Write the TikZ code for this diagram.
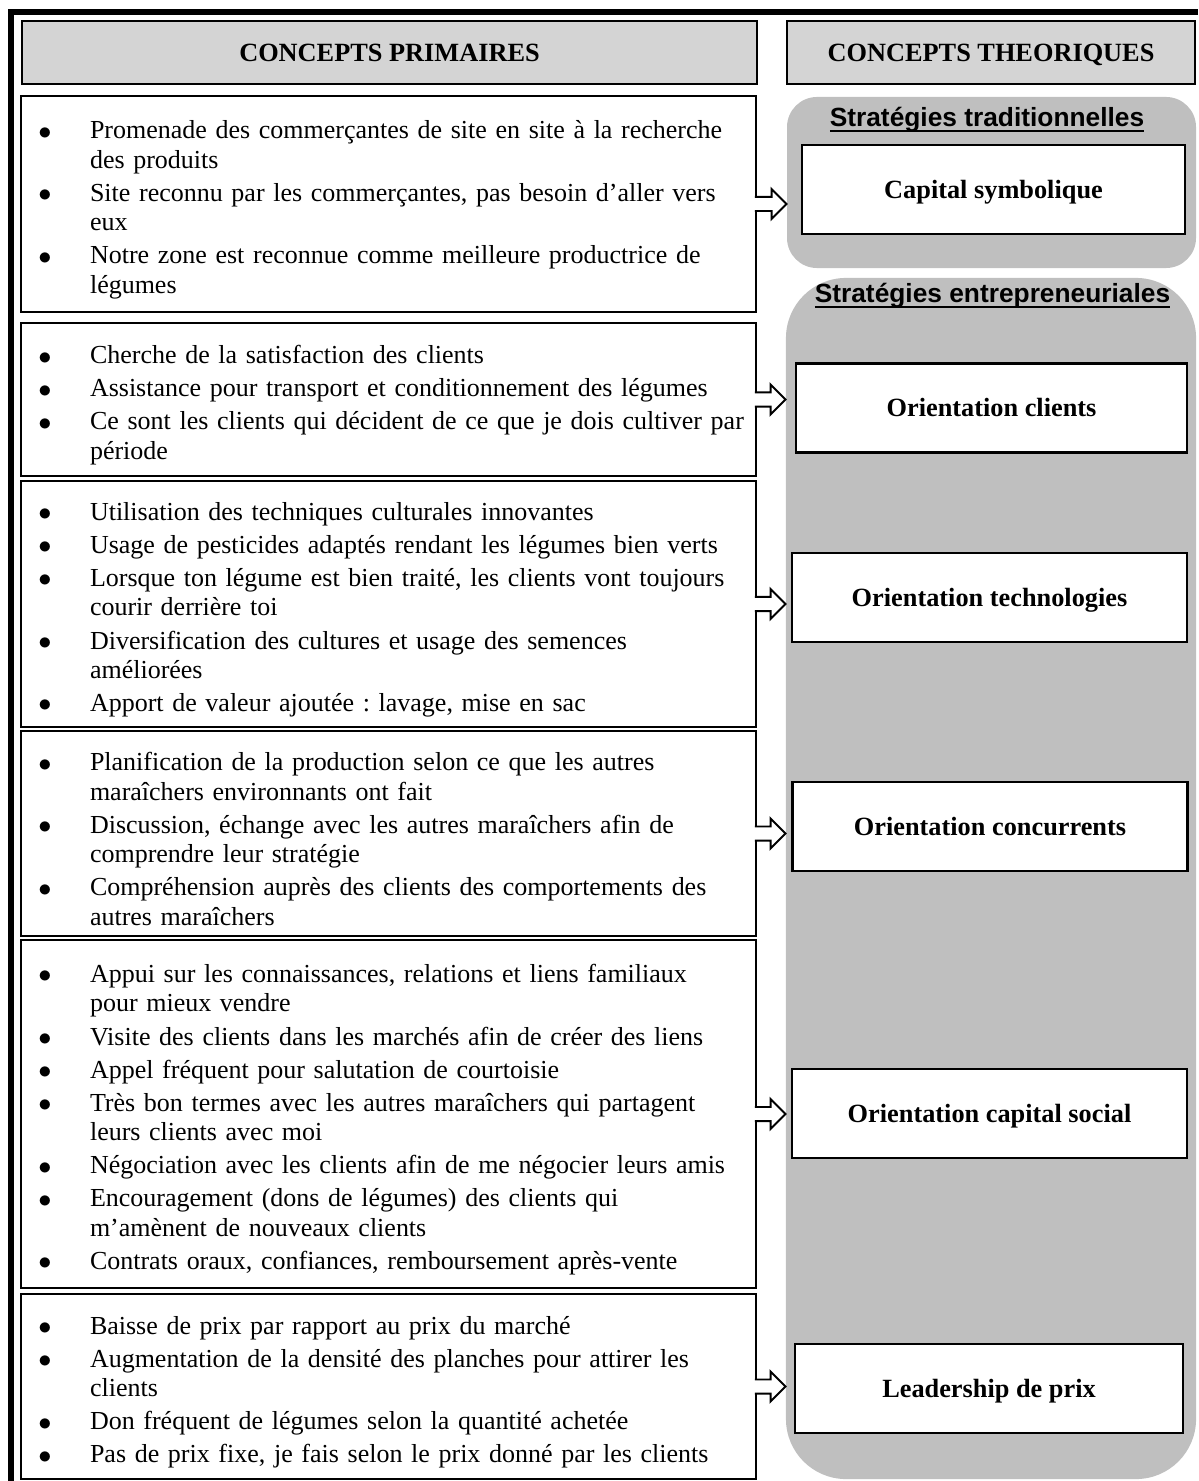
\documentclass[tikz,border=0pt]{standalone}
\usepackage{fontspec}
\setmainfont{Liberation Serif}
\newfontfamily\titrefont{Liberation Sans}
\usepackage{tikz}
\usetikzlibrary{calc}

\definecolor{enteteGris}{gray}{0.83}
\definecolor{fondGris}{gray}{0.75}

\newcommand{\puce}{\raisebox{-0.2pt}{$\bullet$}}
\newcommand{\souligne}[1]{\setbox0\hbox{#1}\rlap{\rule[-2.4pt]{\wd0}{0.9pt}}\box0}
\newcommand{\suite}{\hfill\break}

\newenvironment{puces}{%
  \list{\puce}{%
    \setlength{\leftmargin}{31.5pt}%
    \setlength{\labelwidth}{12pt}%
    \setlength{\labelsep}{17.6pt}%
    \setlength{\itemsep}{1.7pt}%
    \setlength{\parsep}{0pt}%
    \setlength{\topsep}{0pt}%
    \setlength{\partopsep}{0pt}}\raggedright\frenchspacing}%
  {\endlist}

\begin{document}
\begin{tikzpicture}[x=0.456pt, y=-0.456pt,
  entete/.style={draw, fill=enteteGris, line width=1.2pt, minimum height=28.7pt,
                 text height=8pt, text depth=0pt,
                 font=\fontsize{12}{14}\selectfont\bfseries},
  primaire/.style={draw, line width=0.9pt, text width=335.2pt, inner xsep=0pt,
                   inner ysep=0pt, align=left, font=\fontsize{11.85}{13.4}\selectfont},
  groupe/.style={fill=fondGris, inner sep=0pt},
  titre/.style={anchor=base, font=\titrefont\fontsize{12}{14}\selectfont\bfseries},
  theorique/.style={draw, fill=white, line width=1.3pt, minimum height=40.6pt,
                    text height=8pt, text depth=0pt,
                    font=\fontsize{12}{14}\selectfont\bfseries},
  fleche/.style={draw, fill=white, line width=0.9pt, line join=miter,
    to path={let \p1=(\tikztostart), \p2=(\tikztotarget) in
      (\x1-1pt,\y1+3.2pt) -- (\x2-6.8pt,\y1+3.2pt) -- (\x2-6.8pt,\y1+6.8pt)
      -- (\x2,\y1) -- (\x2-6.8pt,\y1-6.8pt) -- (\x2-6.8pt,\y1-3.2pt)
      -- (\x1-1pt,\y1-3.2pt)}}
]
  \useasboundingbox (0,0) rectangle (1198,1481);
  \draw[line width=2.7pt] (11,1481) -- (11,12) -- (1198,12);

  \node[groupe, rounded corners=13.7pt, minimum width=186.5pt, minimum height=78pt]
    (trad) at (991.5,182.5) {};
  \node[groupe, rounded corners=27.4pt, minimum width=187pt, minimum height=547.7pt]
    (entre) at (991,878.5) {};
  \node[titre] (tradtitre)  at (987,127)   {\souligne{Stratégies traditionnelles}};
  \node[titre] (entretitre) at (992.5,303) {\souligne{Stratégies entrepreneuriales}};

  \node[entete, minimum width=335.2pt] (primaires)  at (389.5,52.5) {CONCEPTS PRIMAIRES};
  \node[entete, minimum width=186pt]   (theoriques) at (991,52.5)   {CONCEPTS THEORIQUES};

  \node[theorique, minimum width=174.6pt] (symbolique)   at (993.5,189.5)  {Capital symbolique};
  \node[theorique, minimum width=178.3pt] (clients)      at (991.5,408)    {Orientation clients};
  \node[theorique, minimum width=180.1pt] (technologies) at (989.5,597.5)  {Orientation technologies};
  \node[theorique, minimum width=180.1pt] (concurrents)  at (990,826.5)    {Orientation concurrents};
  \node[theorique, minimum width=180.1pt] (social)       at (989.5,1113.5) {Orientation capital social};
  \node[theorique, minimum width=176.9pt] (prix)         at (989,1388.5)   {Leadership de prix};

  \node[primaire, minimum height=98.5pt] (p1) at (388.5,204) {\begin{puces}
    \item Promenade des commerçantes de site en site à la recherche\suite des produits
    \item Site reconnu par les commerçantes, pas besoin d’aller vers\suite eux
    \item Notre zone est reconnue comme meilleure productrice de\suite légumes
  \end{puces}};
  \node[primaire, minimum height=69.8pt] (p2) at (388.5,399.5) {\begin{puces}
    \item Cherche de la satisfaction des clients
    \item Assistance pour transport et conditionnement des légumes
    \item Ce sont les clients qui décident de ce que je dois cultiver par\suite période
  \end{puces}};
  \node[primaire, minimum height=112.2pt] (p3) at (388.5,604) {\begin{puces}
    \item Utilisation des techniques culturales innovantes
    \item Usage de pesticides adaptés rendant les légumes bien verts
    \item Lorsque ton légume est bien traité, les clients vont toujours\suite courir derrière toi
    \item Diversification des cultures et usage des semences\suite améliorées
    \item Apport de valeur ajoutée : lavage, mise en sac
  \end{puces}};
  \node[primaire, minimum height=93.5pt] (p4) at (388.5,833.5) {\begin{puces}
    \item Planification de la production selon ce que les autres\suite maraîchers environnants ont fait
    \item Discussion, échange avec les autres maraîchers afin de\suite comprendre leur stratégie
    \item Compréhension auprès des clients des comportements des\suite autres maraîchers
  \end{puces}};
  \node[primaire, minimum height=158.7pt] (p5) at (388.5,1114) {\begin{puces}
    \item Appui sur les connaissances, relations et liens familiaux\suite pour mieux vendre
    \item Visite des clients dans les marchés afin de créer des liens
    \item Appel fréquent pour salutation de courtoisie
    \item Très bon termes avec les autres maraîchers qui partagent\suite leurs clients avec moi
    \item Négociation avec les clients afin de me négocier leurs amis
    \item Encouragement (dons de légumes) des clients qui\suite m’amènent de nouveaux clients
    \item Contrats oraux, confiances, remboursement après-vente
  \end{puces}};
  \node[primaire, minimum height=84.4pt] (p6) at (388.5,1386.5) {\begin{puces}
    \item Baisse de prix par rapport au prix du marché
    \item Augmentation de la densité des planches pour attirer les\suite clients
    \item Don fréquent de légumes selon la quantité achetée
    \item Pas de prix fixe, je fais selon le prix donné par les clients
  \end{puces}};

  \draw[fleche] (p1.east) to (p1.east -| trad.west);
  \draw[fleche] (p2.east) to (p2.east -| entre.west);
  \draw[fleche] (p3.east) to (p3.east -| entre.west);
  \draw[fleche] (p4.east) to (p4.east -| entre.west);
  \draw[fleche] (p5.east) to (p5.east -| entre.west);
  \draw[fleche] (p6.east) to (p6.east -| entre.west);
\end{tikzpicture}
\end{document}
